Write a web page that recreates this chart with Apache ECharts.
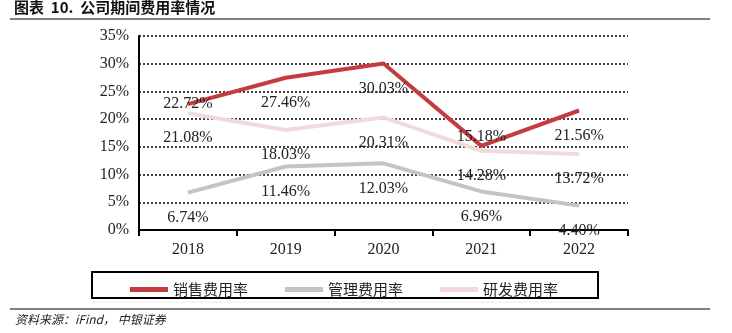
<!DOCTYPE html>
<html>
<head>
<meta charset="utf-8">
<script src="https://cdn.jsdelivr.net/npm/echarts@6/dist/echarts.min.js"></script>
<style>
  html, body { margin: 0; padding: 0; background: #fff; }
  #chart { width: 732px; height: 333px; }
</style>
</head>
<body>
<div id="chart"></div>
<script>
// Period expense ratios, 2018-2022 (%)
const years = ['2018', '2019', '2020', '2021', '2022'];
const sellingRate = [22.72, 27.46, 30.03, 15.18, 21.56];
const adminRate = [6.74, 11.46, 12.03, 6.96, 4.40];
const rdRate = [21.08, 18.03, 20.31, 14.28, 13.72];
const seriesNames = ['销售费用率', '管理费用率', '研发费用率'];
const yTicks = { min: 0, max: 35, step: 5 };

const serif = '"Liberation Serif", "Times New Roman", serif';
const cjk = '"Noto Sans CJK SC", sans-serif';

// Most value labels sit below their point; a couple are placed differently.
const labelOverrides = {
  '0-0': { position: 'inside', offset: [0, -4] },
  '0-3': { position: 'top', distance: 1 }
};

function buildData(values, si) {
  return values.map((v, i) => {
    const o = labelOverrides[si + '-' + i];
    return o ? { value: v, label: o } : v;
  });
}

function lineSeries(name, values, color, si, z) {
  return {
    name: name,
    type: 'line',
    data: buildData(values, si),
    symbol: 'circle',
    symbolSize: 0,
    showSymbol: true,
    z: z,
    lineStyle: { color: color, width: 4 },
    itemStyle: { color: color },
    labelLayout: { hideOverlap: false },
    label: {
      show: true,
      position: 'bottom',
      distance: 17,
      color: '#222',
      fontFamily: serif,
      fontSize: 16,
      formatter: p => Number(p.value).toFixed(2) + '%'
    }
  };
}

const chart = echarts.init(document.getElementById('chart'), null, { renderer: 'canvas' });
chart.setOption({
  animation: false,
  backgroundColor: '#fff',
  grid: { left: 139, right: 104, top: 36, bottom: 103 },
  xAxis: {
    type: 'category',
    data: years,
    boundaryGap: true,
    axisLine: { lineStyle: { color: '#000', width: 2 } },
    axisTick: { show: true, length: 6, lineStyle: { color: '#000', width: 2 } },
    axisLabel: { color: '#222', fontFamily: serif, fontSize: 16, margin: 12 }
  },
  yAxis: {
    type: 'value',
    min: yTicks.min,
    max: yTicks.max,
    interval: yTicks.step,
    axisLine: { show: true, lineStyle: { color: '#000', width: 2 } },
    axisTick: { show: false },
    axisLabel: { color: '#222', fontFamily: serif, fontSize: 16, margin: 10, formatter: '{value}%' },
    splitLine: { lineStyle: { color: '#000', type: [2, 2], width: 1.5 } }
  },
  legend: {
    left: 125,
    top: 277,
    itemGap: 37,
    itemWidth: 38,
    itemHeight: 5,
    icon: 'rect',
    textStyle: { fontFamily: cjk, fontSize: 15, color: '#222' },
    data: seriesNames
  },
  series: [
    lineSeries(seriesNames[0], sellingRate, '#C43C40', 0, 5),
    lineSeries(seriesNames[1], adminRate, '#C4C4C4', 1, 3),
    lineSeries(seriesNames[2], rdRate, '#F3D9DB', 2, 2)
  ],
  graphic: [
    {
      type: 'text', left: 14, top: 0,
      style: { text: '图表  10.  公司期间费用率情况', font: 'bold 15px ' + cjk, fill: '#111' }
    },
    { type: 'line', shape: { x1: 10, y1: 19, x2: 710, y2: 19 }, style: { stroke: '#000', lineWidth: 1 } },
    { type: 'rect', shape: { x: 92, y: 272, width: 506, height: 26 }, style: { fill: 'none', stroke: '#000', lineWidth: 2 }, z: -1 },
    { type: 'line', shape: { x1: 92, y1: 302, x2: 598, y2: 302 }, style: { stroke: '#eee', lineWidth: 1 } },
    { type: 'line', shape: { x1: 10, y1: 309, x2: 710, y2: 309 }, style: { stroke: '#000', lineWidth: 1 } },
    {
      type: 'text', left: 15, top: 313,
      style: { text: '资料来源：iFind， 中银证券', font: 'italic 12px ' + cjk, fill: '#222' }
    }
  ]
});
</script>
</body>
</html>
